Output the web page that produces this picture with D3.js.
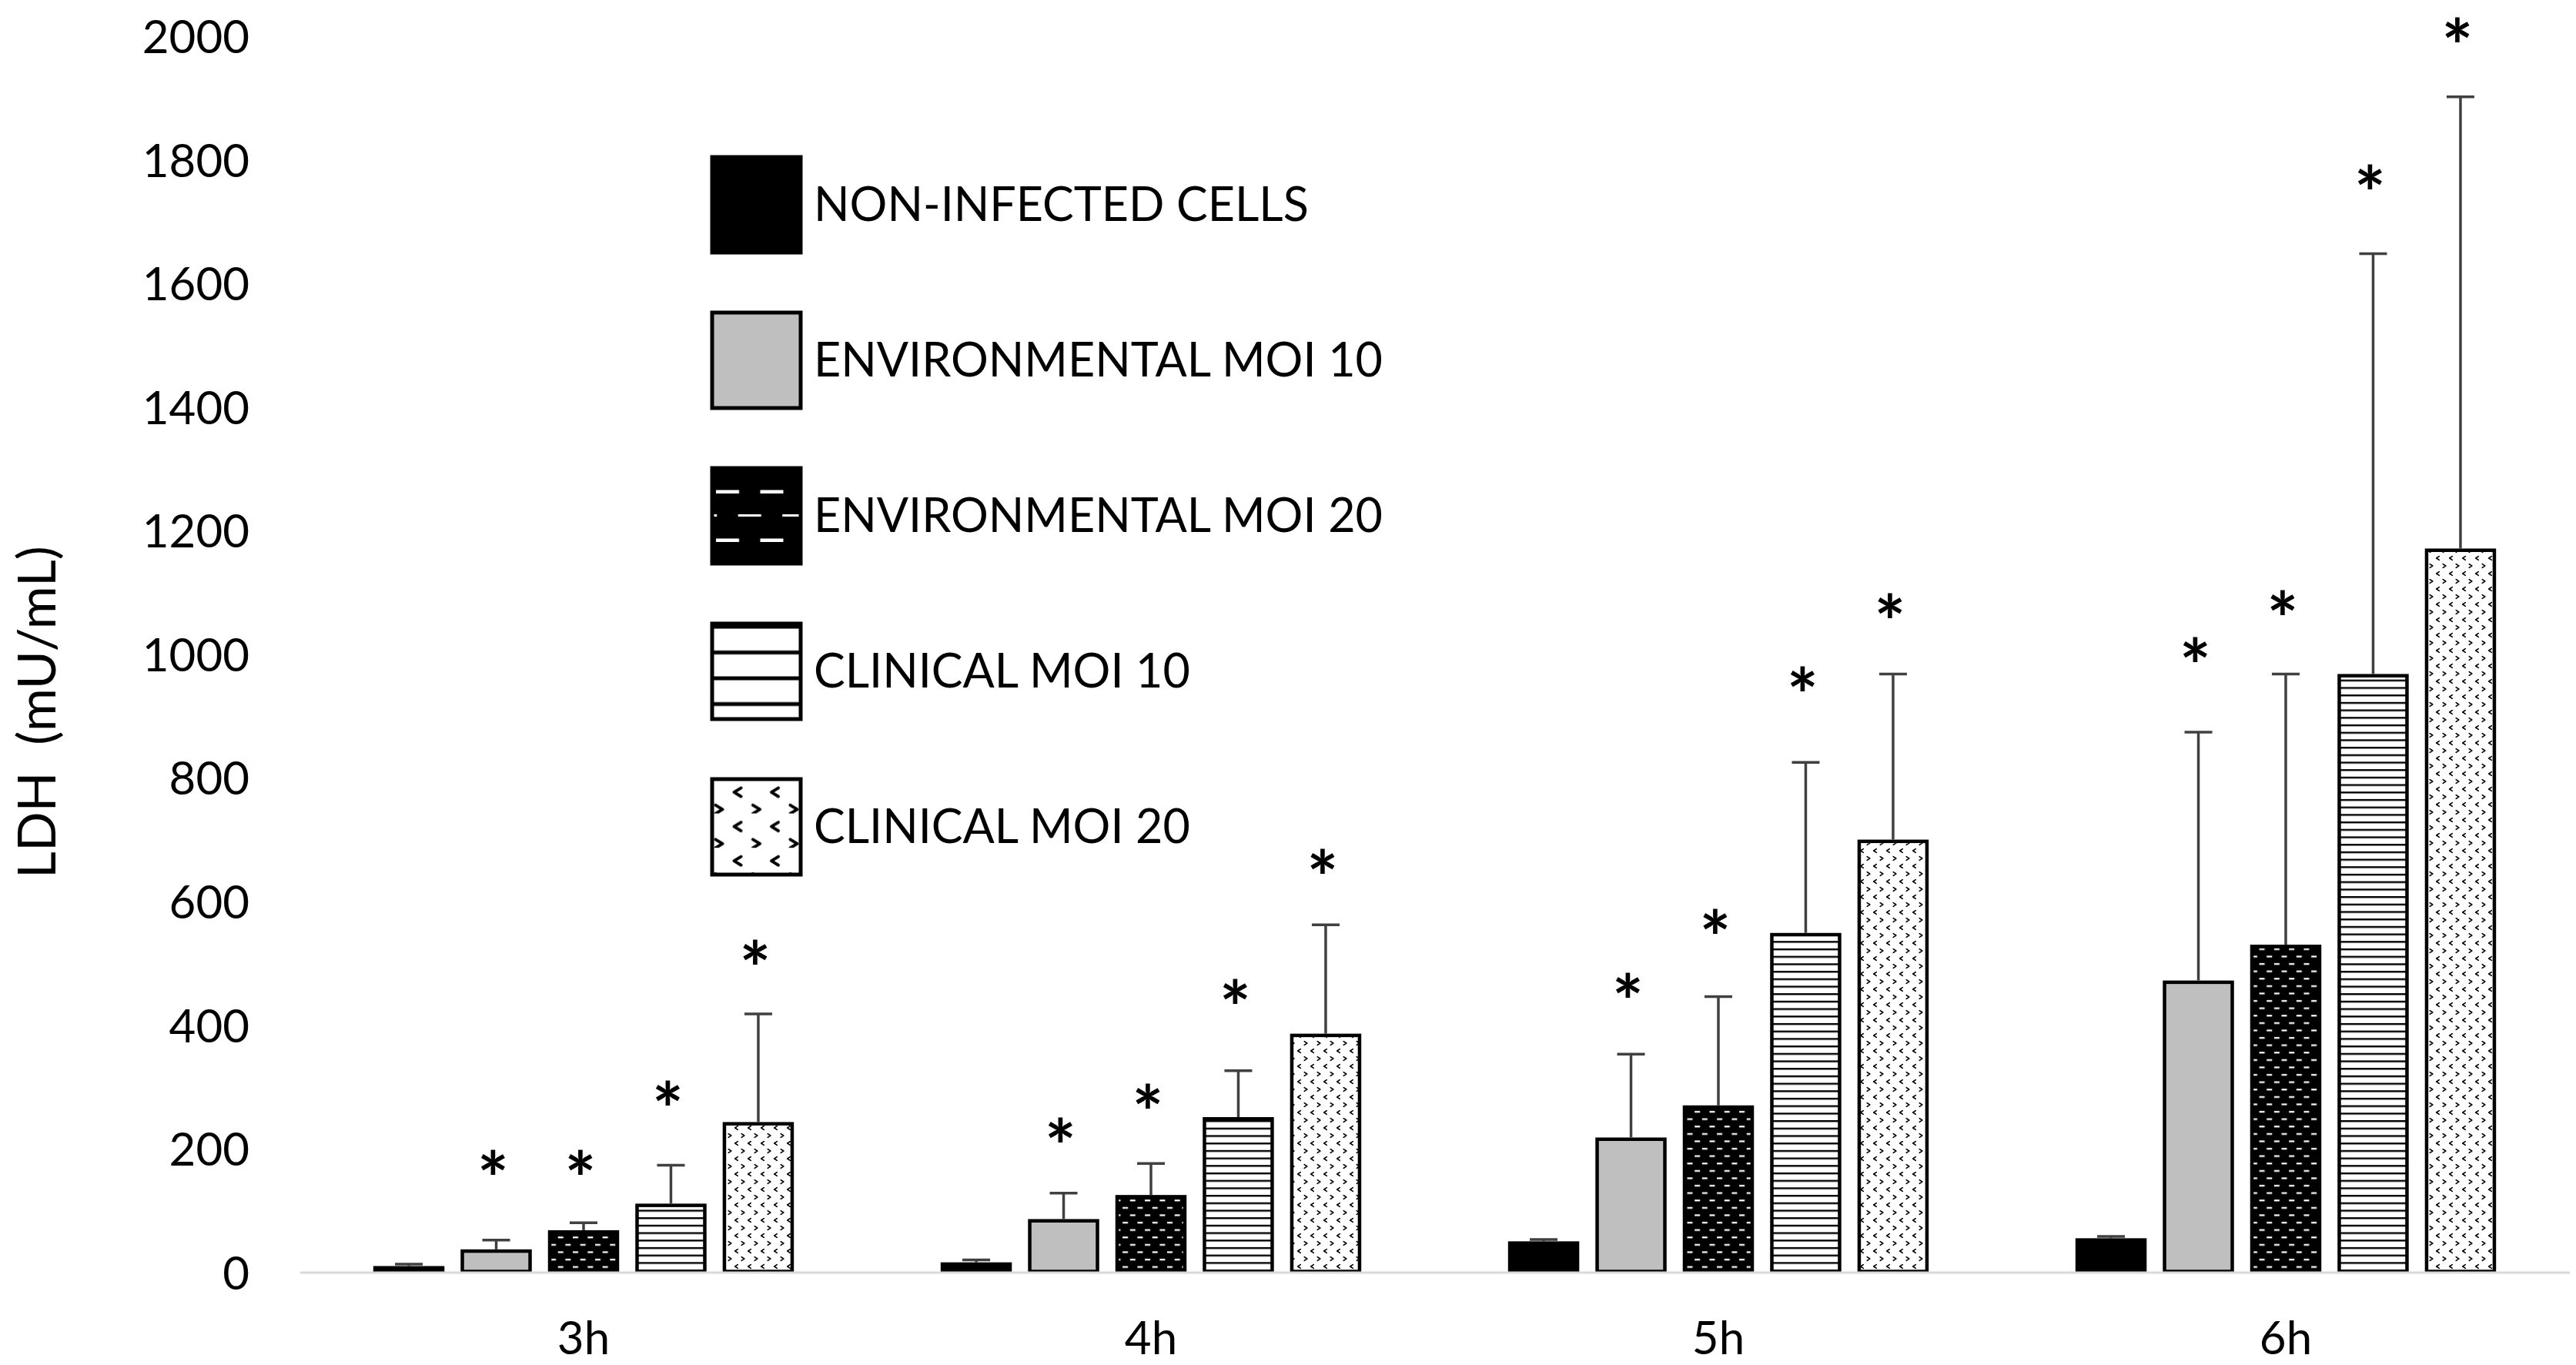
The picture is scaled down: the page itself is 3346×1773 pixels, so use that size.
<!DOCTYPE html>
<html>
<head>
<meta charset="utf-8">
<script src="https://cdn.jsdelivr.net/npm/d3@7"></script>
<style>
  body { margin: 0; background: #fff; }
  text { font-family: Lato, "Open Sans", sans-serif; }
</style>
</head>
<body>
<script>
const SvgWidth = 3346, SvgHeight = 1773;

// data
const categories = ["3h", "4h", "5h", "6h"];
const seriesNames = ["NON-INFECTED CELLS", "ENVIRONMENTAL MOI 10", "ENVIRONMENTAL MOI 20", "CLINICAL MOI 10", "CLINICAL MOI 20"];

const meanNonInfected = [10, 16, 50, 55];
const meanEnv10 = [37, 86, 218, 472];
const meanEnv20 = [68, 125, 270, 530];
const meanClin10 = [111, 251, 549, 968];
const meanClin20 = [243, 386, 700, 1171];

const errNonInfected = [3, 4, 3, 3];
const errEnv10 = [15, 42, 135, 402];
const errEnv20 = [12, 51, 176, 438];
const errClin10 = [62, 75, 276, 680];
const errClin20 = [175, 176, 268, 731];

// level (in mU/mL) where each significance asterisk sits
const starNonInfected = null;
const starEnv10 = [173, 225, 459, 1002];
const starEnv20 = [173, 280, 562, 1078];
const starClin10 = [285, 449, 955, 1767];
const starClin20 = [513, 659, 1073, 2005];

const yTicks = [0, 200, 400, 600, 800, 1000, 1200, 1400, 1600, 1800, 2000];
const yTitle = "LDH  (mU/mL)";

const means = [meanNonInfected, meanEnv10, meanEnv20, meanClin10, meanClin20];
const errs = [errNonInfected, errEnv10, errEnv20, errClin10, errClin20];
const stars = [starNonInfected, starEnv10, starEnv20, starClin10, starClin20];

// fills: bar fill / legend fill
const barFill = ["#000", "#bfbfbf", "url(#envDash)", "url(#hLines)", "url(#chev)"];
const legFill = ["#000", "#bfbfbf", "url(#envDashLg)", "url(#hLinesLg)", "url(#chevLg)"];

var svg = d3.select("body").append("svg")
  .attr("width", SvgWidth)
  .attr("height", SvgHeight)
  .style("background-color", "white");

var x0 = d3.scaleBand().domain(categories).range([389.5, 3337.5]);
var x1 = d3.scaleBand().domain(seriesNames).range([0, x0.bandwidth()])
  .paddingInner(0.185).paddingOuter(0.84);
var y = d3.scaleLinear().domain([0, 2000]).range([1652.5, 47]);

// legend geometry
const legX = 925, legW = 115, legH = 124, legText0 = 287, legStep = 202;
function legCenter(i) { return legText0 + i * legStep - 21; }

// ---- patterns
var defs = svg.append("defs");

var p = defs.append("pattern").attr("id", "envDash").attr("patternUnits", "userSpaceOnUse")
  .attr("width", 19.3).attr("height", 19.2);
p.append("rect").attr("width", 19.3).attr("height", 19.2).attr("fill", "#000");
p.append("rect").attr("x", 1).attr("y", 3).attr("width", 7).attr("height", 2.2).attr("fill", "#fff");
p.append("rect").attr("x", 10.65).attr("y", 12.6).attr("width", 7).attr("height", 2.2).attr("fill", "#fff");

var top2 = legCenter(2) - legH / 2;
p = defs.append("pattern").attr("id", "envDashLg").attr("patternUnits", "userSpaceOnUse")
  .attr("x", legX).attr("y", top2).attr("width", 57.5).attr("height", 63);
p.append("rect").attr("width", 57.5).attr("height", 63).attr("fill", "#000");
p.append("rect").attr("x", 5).attr("y", 28.5).attr("width", 30).attr("height", 4.5).attr("fill", "#fff");
p.append("rect").attr("x", 33.7).attr("y", 60).attr("width", 30).attr("height", 4.5).attr("fill", "#fff");
p.append("rect").attr("x", -23.8).attr("y", 60).attr("width", 30).attr("height", 4.5).attr("fill", "#fff");

p = defs.append("pattern").attr("id", "hLines").attr("patternUnits", "userSpaceOnUse")
  .attr("width", 20).attr("height", 9.7);
p.append("rect").attr("width", 20).attr("height", 9.7).attr("fill", "#fff");
p.append("rect").attr("width", 20).attr("height", 2.4).attr("fill", "#000");

var top3 = legCenter(3) - legH / 2;
p = defs.append("pattern").attr("id", "hLinesLg").attr("patternUnits", "userSpaceOnUse")
  .attr("x", legX).attr("y", top3).attr("width", 40).attr("height", 33.5);
p.append("rect").attr("width", 40).attr("height", 33.5).attr("fill", "#fff");
p.append("rect").attr("y", 1.5).attr("width", 40).attr("height", 5).attr("fill", "#000");

function chevron(g, cx, cy, w, h, dir, sw) {
  var d = dir < 0
    ? [[cx + w / 2, cy - h / 2], [cx - w / 2, cy], [cx + w / 2, cy + h / 2]]
    : [[cx - w / 2, cy - h / 2], [cx + w / 2, cy], [cx - w / 2, cy + h / 2]];
  g.append("polyline").attr("points", d.map(function(q) { return q.join(","); }).join(" "))
    .attr("fill", "none").attr("stroke", "#000").attr("stroke-width", sw)
    .attr("stroke-linecap", "round").attr("stroke-linejoin", "round");
}

p = defs.append("pattern").attr("id", "chev").attr("patternUnits", "userSpaceOnUse")
  .attr("width", 17).attr("height", 20);
p.append("rect").attr("width", 17).attr("height", 20).attr("fill", "#fff");
chevron(p, 4.5, 5, 3.6, 4.6, -1, 1.6);
chevron(p, 13, 15, 3.6, 4.6, 1, 1.6);

var top4 = legCenter(4) - legH / 2;
p = defs.append("pattern").attr("id", "chevLg").attr("patternUnits", "userSpaceOnUse")
  .attr("x", legX).attr("y", top4).attr("width", 48.5).attr("height", 44.6);
p.append("rect").attr("width", 48.5).attr("height", 44.6).attr("fill", "#fff");
chevron(p, 33, 17, 9, 11, -1, 4);
chevron(p, 9, 39.3, 9, 11, 1, 4);

// ---- bars
const sw = 4.5;
var cells = [];
categories.forEach(function(c, ci) {
  seriesNames.forEach(function(s, si) {
    cells.push({cat: c, ser: s, si: si, v: means[si][ci], e: errs[si][ci], star: stars[si] ? stars[si][ci] : null});
  });
});

var g = svg.append("g");

g.selectAll(".bar")
  .data(cells)
  .enter().append("rect")
    .attr("class", "bar")
    .attr("x", function(d) { return x0(d.cat) + x1(d.ser) + sw / 2; })
    .attr("y", function(d) { return y(d.v) + sw / 2; })
    .attr("width", x1.bandwidth() - sw)
    .attr("height", function(d) { return Math.max(0, y(0) - y(d.v) - sw / 2 - 1); })
    .attr("fill", function(d) { return barFill[d.si]; })
    .attr("stroke", "#000")
    .attr("stroke-width", sw);

// error bars (upper only)
function cx(d) { return x0(d.cat) + x1(d.ser) + x1.bandwidth() / 2; }
var eb = g.selectAll(".err").data(cells).enter().append("g").attr("class", "err")
  .attr("stroke", "#404040").attr("stroke-width", 3.5);
eb.append("line")
  .attr("x1", cx).attr("x2", cx)
  .attr("y1", function(d) { return y(d.v); })
  .attr("y2", function(d) { return y(d.v + d.e); });
eb.append("line")
  .attr("x1", function(d) { return cx(d) - 18; })
  .attr("x2", function(d) { return cx(d) + 18; })
  .attr("y1", function(d) { return y(d.v + d.e); })
  .attr("y2", function(d) { return y(d.v + d.e); });

// asterisks
g.selectAll(".star")
  .data(cells.filter(function(d) { return d.star != null; }))
  .enter().append("text")
    .attr("class", "star")
    .attr("x", function(d) { return cx(d) - 4; })
    .attr("y", function(d) { return y(d.star) + 52; })
    .attr("text-anchor", "middle")
    .attr("font-size", 96)
    .attr("font-weight", 700)
    .attr("fill", "#000")
    .text("*");

// ---- axes
var xAxis = svg.append("g")
  .attr("transform", "translate(0," + y(0) + ")")
  .call(d3.axisBottom(x0).tickSize(0).tickSizeOuter(0).tickPadding(64));
xAxis.attr("font-family", null).attr("font-size", 60);
xAxis.select(".domain").attr("stroke", "#d9d9d9").attr("stroke-width", 3);
xAxis.selectAll("text").attr("fill", "#000");

var yAxis = svg.append("g")
  .attr("transform", "translate(324,0)")
  .call(d3.axisLeft(y).tickValues(yTicks).tickFormat(d3.format("d")).tickSize(0).tickPadding(0));
yAxis.attr("font-family", null).attr("font-size", 60);
yAxis.select(".domain").remove();
yAxis.selectAll("text").attr("fill", "#000").attr("dy", "0.36em");

svg.append("text")
  .attr("transform", "translate(72,925) rotate(-90)")
  .attr("text-anchor", "middle")
  .attr("font-size", 68)
  .style("white-space", "pre")
  .attr("fill", "#000")
  .text(yTitle);

// ---- legend
var leg = svg.append("g").selectAll("g")
  .data(seriesNames)
  .enter().append("g");
leg.append("rect")
  .attr("x", legX)
  .attr("y", function(d, i) { return legCenter(i) - legH / 2; })
  .attr("width", legW)
  .attr("height", legH)
  .attr("fill", function(d, i) { return legFill[i]; })
  .attr("stroke", "#000")
  .attr("stroke-width", 5);
leg.append("text")
  .attr("x", 1057)
  .attr("y", function(d, i) { return legText0 + i * legStep; })
  .attr("font-size", 61)
  .attr("fill", "#000")
  .text(function(d) { return d; });
</script>
</body>
</html>
